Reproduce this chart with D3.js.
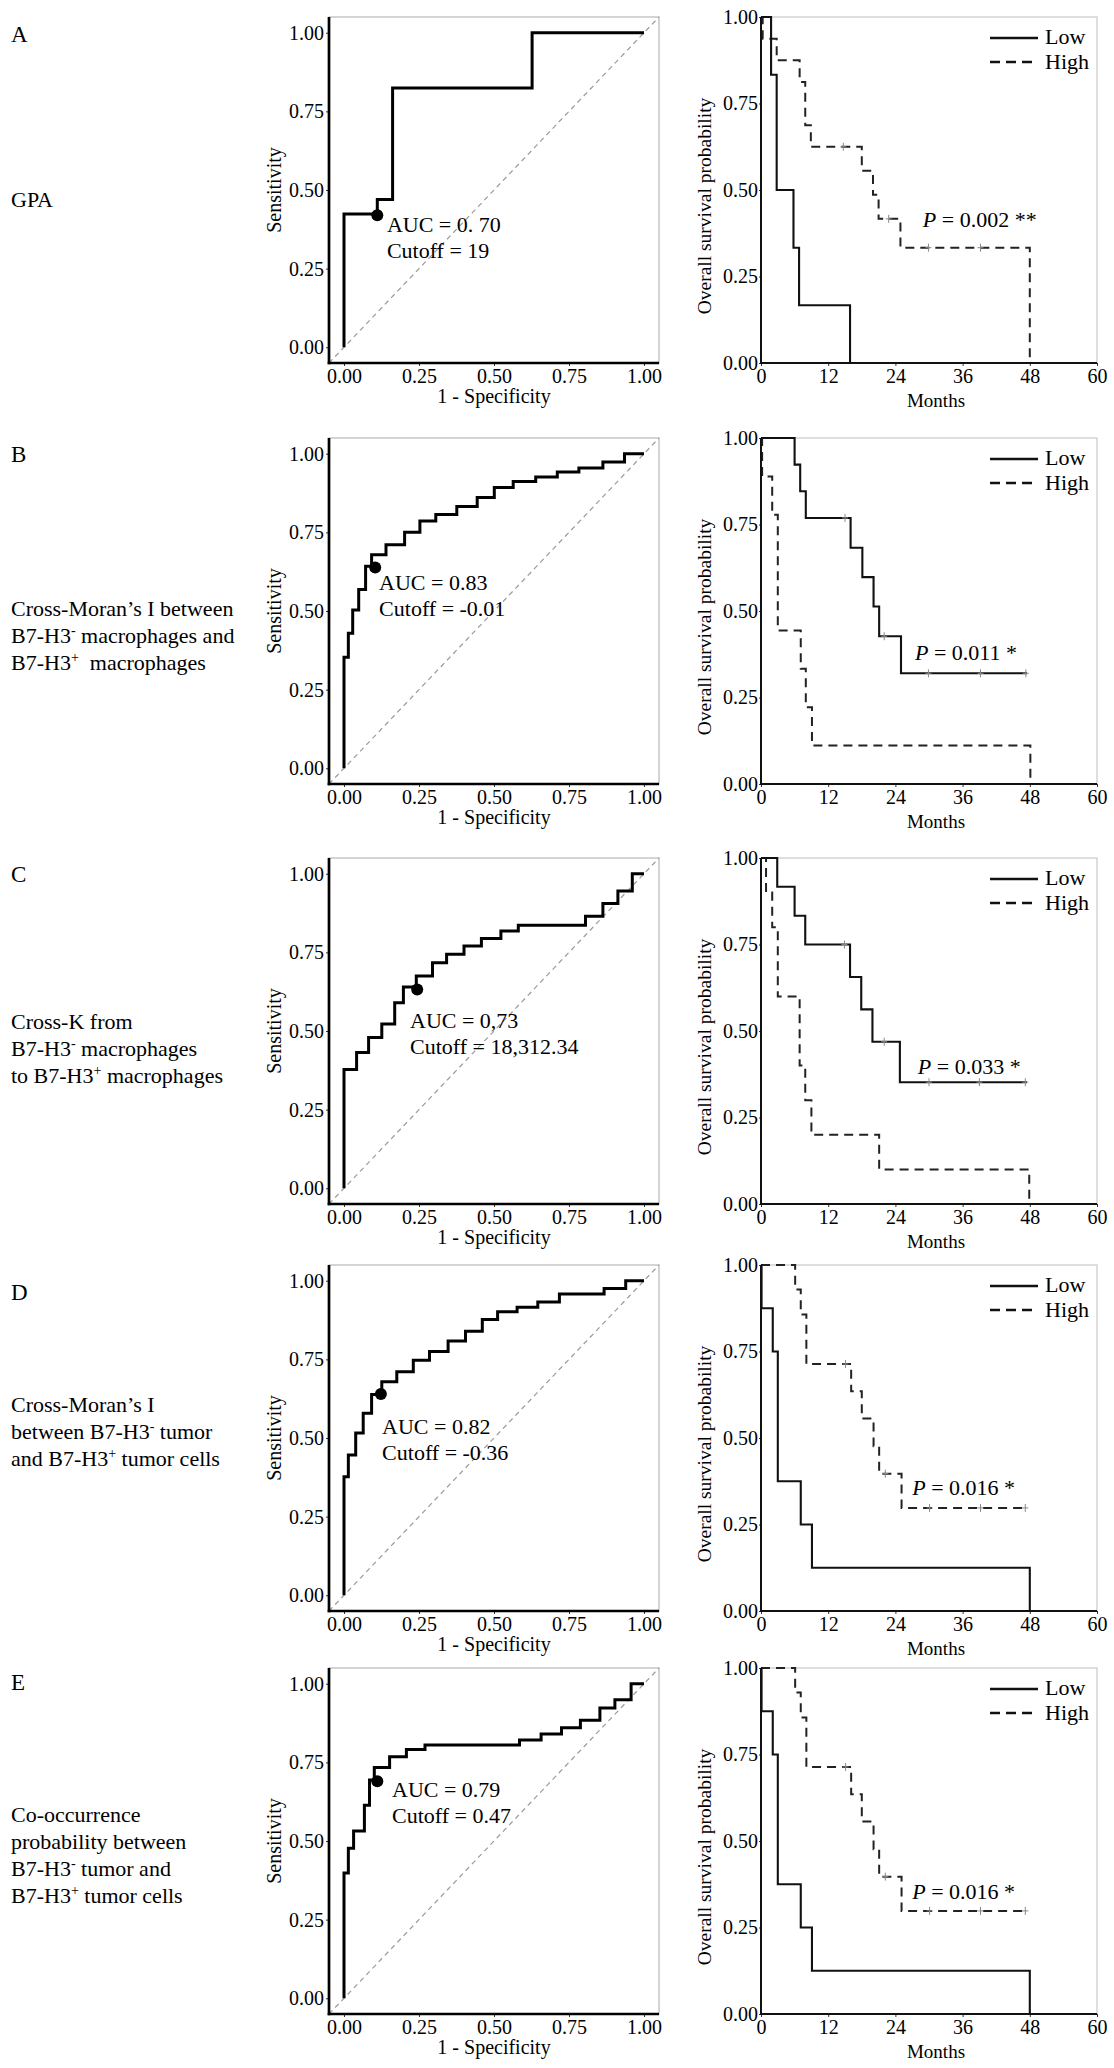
<!DOCTYPE html>
<html>
<head>
<meta charset="utf-8">
<script src="https://cdn.jsdelivr.net/npm/d3@7"></script>
<style>
  body { margin:0; background:#fff; }
  text { font-family:"Liberation Serif","Times New Roman",serif; fill:#000; }
</style>
</head>
<body>
<div id="fig"></div>
<script>
// ---- data ----
const rowKeys = ["A","B","C","D","E"];
// {x} = superscript
const groupTitles = [
  ["GPA"],
  ["Cross-Moran’s I between", "B7-H3{-} macrophages and", "B7-H3{+}  macrophages"],
  ["Cross-K from", "B7-H3{-} macrophages", "to B7-H3{+} macrophages"],
  ["Cross-Moran’s I", "between B7-H3{-} tumor", "and B7-H3{+} tumor cells"],
  ["Co-occurrence", "probability between", "B7-H3{-} tumor and", "B7-H3{+} tumor cells"]
];
const aucText    = ["0. 70", "0.83", "0,73", "0.82", "0.79"];
const cutoffText = ["19", "-0.01", "18,312.34", "-0.36", "0.47"];
const pText      = ["0.002 **", "0.011 *", "0.033 *", "0.016 *", "0.016 *"];

const rocTicks   = [0, 0.25, 0.5, 0.75, 1];
const survTicks  = [0, 0.25, 0.5, 0.75, 1];
const monthTicks = [0, 12, 24, 36, 48, 60];

// ROC corners: [1 - specificity, sensitivity after the jump]
const rocA = [[0,0],[0,0.424],[0.111,0.47],[0.162,0.824],[0.627,1],[1,1]];
const rocB = [[0,0],[0,0.353],[0.0145,0.429],[0.029,0.503],[0.049,0.568],[0.072,0.642],[0.092,0.679],[0.140,0.711],[0.202,0.75],[0.253,0.786],[0.306,0.807],[0.376,0.832],[0.444,0.861],[0.501,0.893],[0.564,0.912],[0.639,0.926],[0.711,0.942],[0.783,0.955],[0.863,0.974],[0.935,1],[1,1]];
const rocC = [[0,0],[0,0.378],[0.042,0.432],[0.082,0.479],[0.126,0.522],[0.169,0.59],[0.198,0.64],[0.241,0.675],[0.295,0.717],[0.342,0.744],[0.4,0.770],[0.458,0.794],[0.523,0.818],[0.581,0.836],[0.805,0.865],[0.863,0.905],[0.913,0.945],[0.961,1],[1,1]];
const rocD = [[0,0],[0,0.377],[0.0145,0.446],[0.039,0.516],[0.064,0.579],[0.092,0.638],[0.126,0.679],[0.176,0.711],[0.231,0.747],[0.285,0.775],[0.347,0.808],[0.405,0.839],[0.461,0.877],[0.512,0.901],[0.577,0.916],[0.646,0.932],[0.718,0.958],[0.867,0.975],[0.939,1],[1,1]];
const rocE = [[0,0],[0,0.398],[0.0145,0.477],[0.032,0.532],[0.068,0.614],[0.085,0.694],[0.101,0.734],[0.152,0.768],[0.208,0.791],[0.270,0.805],[0.585,0.821],[0.657,0.840],[0.725,0.860],[0.788,0.884],[0.853,0.923],[0.903,0.949],[0.957,1],[1,1]];
const cutPoints = [[0.111,0.42],[0.104,0.638],[0.244,0.632],[0.123,0.64],[0.111,0.69]];

// KM curves: [month, survival from that month on]; last point = end of follow-up
const lowA  = [[0,1],[1.8,0.833],[2.8,0.5],[5.8,0.333],[6.8,0.167],[15.9,0]];
const highA = [[0,1],[0.3,0.9375],[2.8,0.875],[6.9,0.8125],[7.9,0.6875],[8.9,0.625],[18.0,0.5556],[20.0,0.4861],[21.0,0.4167],[24.9,0.3333],[48.0,0]];
const censLowA  = [];
const censHighA = [14.7, 22.8, 29.9, 39.2];

const lowB  = [[0,1],[6.0,0.923],[7.0,0.846],[8.0,0.769],[16.0,0.683],[18.1,0.598],[20.1,0.513],[21.1,0.427],[25.0,0.32],[47.5,0.32]];
const highB = [[0,1],[0.2,0.889],[2.0,0.778],[3.0,0.444],[7.1,0.333],[8.0,0.222],[9.1,0.111],[48.1,0]];
const censLowB  = [15.0, 22.0, 29.9, 39.2, 47.3];
const censHighB = [];

const lowC  = [[0,1],[2.9,0.917],[6.0,0.833],[7.9,0.75],[15.9,0.656],[17.9,0.5625],[19.9,0.469],[24.8,0.352],[47.5,0.352]];
const highC = [[0,1],[0.9,0.9],[2.0,0.8],[3.0,0.6],[6.9,0.4],[7.9,0.3],[9.0,0.2],[21.1,0.1],[47.9,0]];
const censLowC  = [14.9, 22.0, 30.0, 39.0, 47.2];
const censHighC = [];

const lowD  = [[0,1],[0.1,0.875],[2.1,0.75],[3.0,0.375],[7.1,0.25],[9.1,0.125],[48.0,0]];
const highD = [[0,1],[6.1,0.929],[7.1,0.857],[8.1,0.714],[16.1,0.635],[18.0,0.556],[20.1,0.476],[21.1,0.397],[25.1,0.298],[47.5,0.298]];
const censLowD  = [];
const censHighD = [15.1, 22.2, 30.1, 39.2, 47.2];

const lowE  = [[0,1],[0.1,0.875],[2.1,0.75],[3.0,0.375],[7.1,0.25],[9.1,0.125],[48.0,0]];
const highE = [[0,1],[6.1,0.929],[7.1,0.857],[8.1,0.714],[16.1,0.635],[18.0,0.556],[20.1,0.476],[21.1,0.397],[25.1,0.298],[47.5,0.298]];
const censLowE  = [];
const censHighE = [15.1, 22.2, 30.1, 39.2, 47.2];

const rocs = [rocA, rocB, rocC, rocD, rocE];
const kms = [
  {low:lowA, high:highA, cl:censLowA, ch:censHighA},
  {low:lowB, high:highB, cl:censLowB, ch:censHighB},
  {low:lowC, high:highC, cl:censLowC, ch:censHighC},
  {low:lowD, high:highD, cl:censLowD, ch:censHighD},
  {low:lowE, high:highE, cl:censLowE, ch:censHighE}
];

// ---- layout ----
const W = 1114, H = 2068;
const rowTop = [17, 438, 858, 1265, 1668];
const panelH = 346;
const rocL = 329, rocR = 659;
const kmL = 761, kmR = 1097;
const letterY = [42, 462, 882, 1300, 1690];
const titleY  = [207, 616, 1029, 1412, 1822];
// annotation anchors in data units
const aucPos = [[0.143,0.365],[0.117,0.566],[0.22,0.511],[0.127,0.512],[0.16,0.64]];
const pPos   = [[28.9,0.393],[27.5,0.357],[28.0,0.377],[27.0,0.335],[27.0,0.332]];

const svg = d3.select("#fig").append("svg").attr("width", W).attr("height", H);
svg.append("rect").attr("width", W).attr("height", H).attr("fill", "#fff");

// text with {sup} pieces
function richText(t, line) {
  const parts = line.split(/(\{[^}]*\})/).filter(s => s.length);
  let up = false;
  parts.forEach(p => {
    if (p[0] === "{") {
      t.append("tspan").attr("dy", -8).attr("font-size", 14).text(p.slice(1, -1));
      up = true;
    } else {
      const s = t.append("tspan").text(p);
      if (up) { s.attr("dy", 8); up = false; }
    }
  });
}

function styleAxis(ax, size) {
  ax.select(".domain").remove();
  ax.selectAll(".tick line").attr("stroke", "#333");
  ax.selectAll(".tick text").attr("font-size", size).attr("fill", "#111")
    .style("font-family", "'Liberation Serif','Times New Roman',serif");
}

function drawRoc(i) {
  const top = rowTop[i], bot = top + panelH;
  const g = svg.append("g");
  const x = d3.scaleLinear().domain([-0.05, 1.05]).range([rocL, rocR]);
  const y = d3.scaleLinear().domain([-0.05, 1.05]).range([bot, top]);

  g.append("rect").attr("x", rocL).attr("y", top).attr("width", rocR - rocL).attr("height", panelH)
    .attr("fill", "none").attr("stroke", "#bdbdbd").attr("stroke-width", 1.3);

  g.append("line")
    .attr("x1", x(-0.05)).attr("y1", y(-0.05)).attr("x2", x(1.05)).attr("y2", y(1.05))
    .attr("stroke", "#999").attr("stroke-width", 1.2).attr("stroke-dasharray", "5,4");

  g.append("path").datum(rocs[i])
    .attr("d", d3.line().x(d => x(d[0])).y(d => y(d[1])).curve(d3.curveStepAfter))
    .attr("fill", "none").attr("stroke", "#000").attr("stroke-width", 3);

  g.append("circle").attr("cx", x(cutPoints[i][0])).attr("cy", y(cutPoints[i][1])).attr("r", 6).attr("fill", "#000");

  const ay = g.append("g").attr("transform", `translate(${rocL},0)`)
    .call(d3.axisLeft(y).tickValues(rocTicks).tickFormat(d3.format(".2f")).tickSize(3).tickPadding(2));
  styleAxis(ay, 20);
  const ax = g.append("g").attr("transform", `translate(0,${bot})`)
    .call(d3.axisBottom(x).tickValues(rocTicks).tickFormat(d3.format(".2f")).tickSize(3).tickPadding(3));
  styleAxis(ax, 20);

  g.append("line").attr("x1", rocL).attr("x2", rocL).attr("y1", top).attr("y2", bot + 1.3)
    .attr("stroke", "#000").attr("stroke-width", 2.7);
  g.append("line").attr("x1", rocL - 1.3).attr("x2", rocR).attr("y1", bot).attr("y2", bot)
    .attr("stroke", "#000").attr("stroke-width", 2.7);

  g.append("text").attr("transform", `translate(281,${top + 173}) rotate(-90)`)
    .attr("text-anchor", "middle").attr("font-size", 20).text("Sensitivity");
  g.append("text").attr("x", (rocL + rocR) / 2).attr("y", bot + 40)
    .attr("text-anchor", "middle").attr("font-size", 20).text("1 - Specificity");

  const ax0 = x(aucPos[i][0]), ay0 = y(aucPos[i][1]);
  g.append("text").attr("x", ax0).attr("y", ay0).attr("font-size", 22).text("AUC = " + aucText[i]);
  g.append("text").attr("x", ax0).attr("y", ay0 + 26).attr("font-size", 22).text("Cutoff = " + cutoffText[i]);
}

function survAt(curve, t) {
  let s = 1;
  curve.forEach(d => { if (d[0] <= t) s = d[1]; });
  return s;
}

function drawKm(i) {
  const top = rowTop[i], bot = top + panelH;
  const g = svg.append("g");
  const x = d3.scaleLinear().domain([0, 60]).range([kmL, kmR]);
  const y = d3.scaleLinear().domain([0, 1]).range([bot, top]);
  const km = kms[i];

  g.append("rect").attr("x", kmL).attr("y", top).attr("width", kmR - kmL).attr("height", panelH)
    .attr("fill", "none").attr("stroke", "#c8c8c8").attr("stroke-width", 1.2);

  const line = d3.line().x(d => x(d[0])).y(d => y(d[1])).curve(d3.curveStepAfter);
  g.append("path").datum(km.high).attr("d", line)
    .attr("fill", "none").attr("stroke", "#222").attr("stroke-width", 2).attr("stroke-dasharray", "9,6");
  g.append("path").datum(km.low).attr("d", line)
    .attr("fill", "none").attr("stroke", "#111").attr("stroke-width", 2.1);

  const cens = km.cl.map(t => [t, survAt(km.low, t)]).concat(km.ch.map(t => [t, survAt(km.high, t)]));
  cens.forEach(c => {
    const cx = x(c[0]), cy = y(c[1]);
    g.append("path").attr("d", `M${cx},${cy - 4}V${cy + 4}M${cx - 3},${cy}H${cx + 3}`)
      .attr("stroke", "#888").attr("stroke-width", 1);
  });

  const ay = g.append("g").attr("transform", `translate(${kmL},0)`)
    .call(d3.axisLeft(y).tickValues(survTicks).tickFormat(d3.format(".2f")).tickSize(2).tickPadding(1));
  styleAxis(ay, 20);
  const ax = g.append("g").attr("transform", `translate(0,${bot})`)
    .call(d3.axisBottom(x).tickValues(monthTicks).tickSize(3).tickPadding(3));
  styleAxis(ax, 20);

  g.append("line").attr("x1", kmL).attr("x2", kmL).attr("y1", top).attr("y2", bot + 1)
    .attr("stroke", "#111").attr("stroke-width", 2);
  g.append("line").attr("x1", kmL - 1).attr("x2", kmR).attr("y1", bot).attr("y2", bot)
    .attr("stroke", "#111").attr("stroke-width", 2);

  g.append("text").attr("transform", `translate(711,${top + 189}) rotate(-90)`)
    .attr("text-anchor", "middle").attr("font-size", 19.5).text("Overall survival probability");
  g.append("text").attr("x", 936).attr("y", bot + 44)
    .attr("text-anchor", "middle").attr("font-size", 19).text("Months");

  // legend
  g.append("line").attr("x1", 990).attr("x2", 1038).attr("y1", top + 21).attr("y2", top + 21)
    .attr("stroke", "#111").attr("stroke-width", 2.6);
  g.append("line").attr("x1", 990).attr("x2", 1038).attr("y1", top + 45).attr("y2", top + 45)
    .attr("stroke", "#111").attr("stroke-width", 2.6).attr("stroke-dasharray", "10,6");
  g.append("text").attr("x", 1045).attr("y", top + 27).attr("font-size", 22).text("Low");
  g.append("text").attr("x", 1045).attr("y", top + 52).attr("font-size", 22).text("High");

  const pt = g.append("text").attr("x", x(pPos[i][0])).attr("y", y(pPos[i][1])).attr("font-size", 22);
  pt.append("tspan").attr("font-style", "italic").text("P");
  pt.append("tspan").text(" = " + pText[i]);
}

rowKeys.forEach((key, i) => {
  svg.append("text").attr("x", 11).attr("y", letterY[i]).attr("font-size", 23).text(key);
  groupTitles[i].forEach((line, j) => {
    const t = svg.append("text").attr("x", 11).attr("y", titleY[i] + j * 27)
      .attr("font-size", 22).style("white-space", "pre");
    richText(t, line);
  });
  drawRoc(i);
  drawKm(i);
});
</script>
</body>
</html>
